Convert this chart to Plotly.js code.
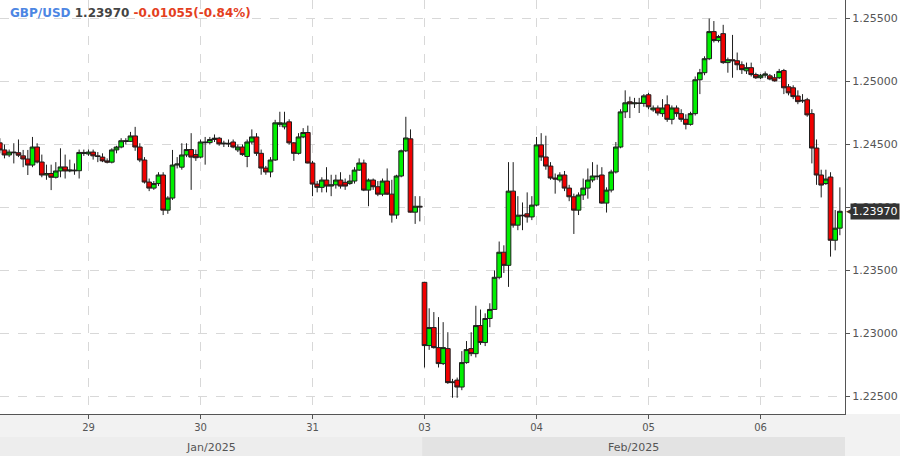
<!DOCTYPE html>
<html>
<head>
<meta charset="utf-8">
<script src="https://cdn.plot.ly/plotly-3.0.1.min.js"></script>
<style>
  html, body { margin: 0; padding: 0; background: #ffffff; }
  #chart { width: 900px; height: 456px; }
</style>
</head>
<body>
<div id="chart"></div>
<script>
// Hourly sessions shown: [day, first hour, last hour]
const sessions = [
  ['2025-01-28', 5, 23],
  ['2025-01-29', 0, 23],
  ['2025-01-30', 0, 23],
  ['2025-01-31', 0, 23],
  ['2025-02-03', 0, 23],
  ['2025-02-04', 0, 23],
  ['2025-02-05', 0, 23],
  ['2025-02-06', 0, 17]
];

const open = [
  1.24513,1.24457,1.24417,1.24440,1.24435,1.24410,1.24385,1.24337,1.24480,1.24361,
  1.24258,1.24270,1.24240,1.24290,1.24322,1.24290,1.24297,1.24292,1.24437,
  1.24425,1.24440,1.24410,1.24400,1.24370,1.24360,1.24457,1.24480,1.24530,1.24525,
  1.24568,1.24480,1.24377,1.24202,1.24154,1.24190,1.24258,1.23979,1.24075,1.24337,
  1.24320,1.24417,1.24460,1.24420,
  1.24400,1.24520,1.24515,1.24540,1.24550,1.24505,1.24510,1.24520,1.24457,1.24480,
  1.24405,1.24520,1.24560,1.24430,1.24313,1.24282,1.24377,1.24660,1.24640,1.24680,
  1.24513,1.24430,1.24560,1.24595,
  1.24353,1.24186,1.24160,1.24218,1.24170,1.24180,1.24218,1.24200,1.24190,1.24210,
  1.24297,1.24353,1.24138,1.24218,1.24165,1.24106,1.24210,1.24106,1.23940,1.24250,
  1.24450,1.24545,1.23963,1.24010,
  1.23406,1.22904,1.23047,1.22888,1.22761,1.22880,1.22610,1.22630,1.22575,1.22769,
  1.22880,1.22840,1.23063,1.22928,1.23119,1.23191,1.23446,1.23645,1.23541,1.24130,
  1.23860,1.23939,1.23950,1.23925,
  1.24019,1.24497,1.24401,1.24329,1.24234,1.24218,1.24258,1.24154,1.24085,1.23979,
  1.24099,1.24154,1.24218,1.24250,1.24258,1.24035,1.24138,1.24282,1.24480,1.24759,
  1.24839,1.24823,1.24830,1.24826,
  1.24895,1.24775,1.24790,1.24745,1.24815,1.24700,1.24790,1.24745,1.24700,1.24660,
  1.24745,1.25014,1.25070,1.25181,1.25396,1.25325,1.25380,1.25150,1.25173,1.25165,
  1.25133,1.25085,1.25110,1.25055,
  1.25030,1.25050,1.25045,1.25030,1.25030,1.25087,1.24958,1.24950,1.24885,1.24845,
  1.24855,1.24745,1.24472,1.24258,1.24190,1.24242,1.23740,1.23836
];
const high = [
  1.2455,1.2450,1.2446,1.2451,1.2454,1.24457,1.24457,1.2456,1.2451,
  1.2442,1.2434,1.2434,1.2436,1.2447,1.2442,1.2438,1.2435,1.2446,1.2446,
  1.2446,1.2446,1.2444,1.2443,1.2439,1.2447,1.2449,1.2455,1.2455,1.2460,
  1.2464,1.2451,1.2440,1.2423,1.2421,1.2428,1.2428,1.2409,1.24457,1.2440,
  1.2451,1.2451,1.2459,1.2446,
  1.2454,1.2456,1.2456,1.2458,1.2456,1.2453,1.2454,1.2454,1.2450,1.2450,
  1.2454,1.2462,1.2459,1.2446,1.2433,1.2440,1.24696,1.2476,1.2476,1.2470,
  1.2452,1.2459,1.2463,1.2465,
  1.2437,1.2421,1.2424,1.2432,1.2426,1.2426,1.2428,1.2423,1.2426,1.2432,
  1.2439,1.2438,1.2423,1.2423,1.2421,1.2423,1.2431,1.2422,1.2426,1.2446,
  1.2472,1.2462,1.2409,1.2409,
  1.2341,1.2320,1.2317,1.2313,1.2309,1.2301,1.2264,1.2265,1.2286,1.2294,
  1.2301,1.2322,1.2319,1.2316,1.2324,1.2350,1.2373,1.2370,1.2436,1.2436,
  1.2409,1.2404,1.2412,1.2409,
  1.2456,1.2459,1.2457,1.2436,1.2427,1.2428,1.2429,1.2418,1.2411,1.2412,
  1.2423,1.2431,1.2436,1.2434,1.2432,1.2416,1.2430,1.2452,1.2478,1.2493,
  1.2488,1.2487,1.2487,1.2490,
  1.2491,1.2481,1.2481,1.2486,1.2489,1.2481,1.2481,1.2478,1.2474,1.2476,
  1.2504,1.2510,1.2520,1.2550,1.2548,1.2537,1.2545,1.2519,1.2537,1.2523,
  1.2516,1.2515,1.2515,1.2507,
  1.2506,1.2508,1.2506,1.2506,1.2510,1.2510,1.2498,1.2497,1.2493,1.2490,
  1.2487,1.2478,1.2454,1.2430,1.2430,1.2428,1.2398,1.2416
];
const low = [
  1.2443,1.2439,1.2440,1.2435,1.2440,1.2432,1.24258,1.2432,1.2435,
  1.2424,1.2422,1.24138,1.2423,1.2424,1.2423,1.2428,1.2426,1.2423,1.2441,
  1.2441,1.2438,1.2436,1.2436,1.2435,1.2435,1.2443,1.2447,1.2450,1.2452,
  1.2445,1.2436,1.2419,1.2413,1.2414,1.2417,1.2394,1.2395,1.2406,1.2431,
  1.2430,1.2440,1.2414,1.2437,
  1.2439,1.2434,1.2450,1.2452,1.2449,1.2448,1.2448,1.2447,1.2444,1.2441,
  1.2432,1.2450,1.2441,1.2426,1.2426,1.2424,1.2437,1.2464,1.2462,1.2450,
  1.2437,1.2442,1.2455,1.2435,
  1.2409,1.2412,1.2412,1.2412,1.2409,1.2415,1.2415,1.2414,1.2418,1.2419,
  1.2429,1.2413,1.2401,1.2414,1.2409,1.2409,1.2410,1.2388,1.2391,1.2424,
  1.2444,1.2396,1.2387,1.2389,
  1.2273,1.2287,1.2288,1.2273,1.2275,1.2260,1.2249,1.2249,1.2255,1.2276,
  1.2282,1.2281,1.2291,1.2290,1.2305,1.2319,1.2343,1.2348,1.2337,1.2384,
  1.2382,1.2382,1.2388,1.2390,
  1.2401,1.2437,1.2430,1.2422,1.2411,1.2420,1.2413,1.2405,1.2379,1.2394,
  1.2406,1.2407,1.2420,1.2422,1.2403,1.2396,1.2412,1.2427,1.2447,1.2471,
  1.2471,1.2479,1.2475,1.2480,
  1.2478,1.2476,1.2473,1.2472,1.2468,1.2466,1.2472,1.2468,1.2462,1.2465,
  1.2473,1.2490,1.2505,1.2517,1.2531,1.2531,1.2514,1.2507,1.2503,1.2509,
  1.2506,1.2506,1.2504,1.2502,
  1.2502,1.2503,1.2501,1.2500,1.2502,1.2490,1.2489,1.2486,1.2482,1.2483,
  1.2472,1.2435,1.2418,1.2408,1.2418,1.2361,1.2366,1.2378
];
const close = [
  1.24457,1.24417,1.24440,1.24435,1.24415,1.24385,1.24337,1.24480,1.24361,
  1.24258,1.24270,1.24240,1.24290,1.24322,1.24290,1.24297,1.24292,1.24437,1.24430,
  1.24440,1.24410,1.24405,1.24370,1.24360,1.24457,1.24480,1.24530,1.24525,1.24568,
  1.24480,1.24377,1.24202,1.24154,1.24190,1.24258,1.23979,1.24075,1.24337,1.24345,
  1.24417,1.24460,1.24400,1.24395,
  1.24520,1.24515,1.24540,1.24550,1.24505,1.24510,1.24505,1.24480,1.24480,1.24420,
  1.24520,1.24560,1.24430,1.24313,1.24282,1.24377,1.24672,1.24672,1.24670,1.24513,
  1.24430,1.24560,1.24595,1.24353,
  1.24186,1.24160,1.24218,1.24170,1.24180,1.24218,1.24170,1.24170,1.24210,1.24297,
  1.24353,1.24138,1.24218,1.24165,1.24106,1.24210,1.24106,1.23940,1.24250,1.24450,
  1.24552,1.23963,1.24010,1.24005,
  1.22904,1.23047,1.22888,1.22761,1.22888,1.22610,1.22615,1.22575,1.22769,1.22872,
  1.22840,1.23063,1.22928,1.23119,1.23191,1.23446,1.23645,1.23541,1.24130,1.23860,
  1.23939,1.23935,1.23925,1.24019,
  1.24497,1.24401,1.24329,1.24234,1.24226,1.24258,1.24154,1.24085,1.23979,1.24099,
  1.24154,1.24218,1.24250,1.24245,1.24035,1.24138,1.24282,1.24480,1.24759,1.24831,
  1.24823,1.24830,1.24826,1.24886,
  1.24799,1.24790,1.24750,1.24790,1.24700,1.24790,1.24745,1.24700,1.24660,1.24745,
  1.25014,1.25070,1.25181,1.25396,1.25325,1.25357,1.25150,1.25173,1.25165,1.25133,
  1.25094,1.25110,1.25055,1.25030,
  1.25050,1.25060,1.25020,1.25005,1.25080,1.24950,1.24910,1.24880,1.24840,1.24850,
  1.24735,1.24472,1.24258,1.24178,1.24226,1.23740,1.23836,1.23970
];

const dayTicks = ['2025-01-29 00:00','2025-01-30 00:00','2025-01-31 00:00','2025-02-03 00:00',
                  '2025-02-04 00:00','2025-02-05 00:00','2025-02-06 00:00'];
const dayLabels = ['29','30','31','03','04','05','06'];
const priceTicks = [1.225, 1.230, 1.235, 1.240, 1.245, 1.250, 1.255];
const months = ['Jan/2025', 'Feb/2025'];
const lastPrice = 1.23970;

const times = [];
sessions.forEach(([d, h0, h1]) => {
  for (let h = h0; h <= h1; h++) times.push(d + ' ' + String(h).padStart(2, '0') + ':00');
});

const FONT = 'DejaVu Sans, Verdana, sans-serif';
const xRange = [0.04, 181.1];
const febStart = times.indexOf('2025-02-03 00:00') - 0.5;
const febFrac = (febStart - xRange[0]) / (xRange[1] - xRange[0]);
const plotH = 414;
const py = px => (plotH - px) / plotH;

const trace = {
  type: 'candlestick',
  x: times, open: open, high: high, low: low, close: close,
  increasing: { line: { color: '#1e1e1e', width: 1 }, fillcolor: '#00f000' },
  decreasing: { line: { color: '#1e1e1e', width: 1 }, fillcolor: '#f00000' },
  whiskerwidth: 0,
  hoverinfo: 'skip',
  showlegend: false
};

const layout = {
  width: 900, height: 456,
  margin: { l: 0, r: 55, t: 0, b: 42, pad: 0 },
  paper_bgcolor: '#ffffff',
  plot_bgcolor: '#ffffff',
  font: { family: FONT, size: 11, color: '#555' },
  boxgap: 0,
  boxgroupgap: 0,
  title: {
    text: '<b><span style="color:#4d86e3">GBP/USD</span> <span style="color:#444444">' +
          lastPrice.toFixed(5) + '</span> <span style="color:#e4401e">-0.01055(-0.84%)</span></b>',
    font: { family: FONT, size: 12 },
    xref: 'container', x: 10 / 900, xanchor: 'left',
    yref: 'container', y: 1 - 13 / 456, yanchor: 'middle'
  },
  xaxis: {
    type: 'category',
    range: xRange,
    rangeslider: { visible: false },
    tickmode: 'array', tickvals: dayTicks, ticktext: dayLabels,
    showgrid: true, gridcolor: '#d8d8d8', griddash: 'dash', gridwidth: 1,
    showline: true, linecolor: '#555', linewidth: 1,
    ticks: 'outside', ticklen: 4, tickcolor: '#555',
    tickfont: { family: FONT, size: 10, color: '#555' },
    zeroline: false, fixedrange: true
  },
  yaxis: {
    side: 'right',
    range: [1.22361, 1.25647],
    tickmode: 'array', tickvals: priceTicks,
    tickformat: '.5f',
    showgrid: true, gridcolor: '#d8d8d8', griddash: 'dash', gridwidth: 1,
    showline: true, linecolor: '#555', linewidth: 1,
    ticks: 'outside', ticklen: 4, tickcolor: '#555',
    tickfont: { family: FONT, size: 11, color: '#555' },
    zeroline: false, fixedrange: true
  },
  shapes: [
    { type: 'rect', xref: 'paper', yref: 'paper', x0: 0, x1: 900 / 845, y0: 0, y1: py(456),
      fillcolor: '#f2f2f2', line: { width: 0 }, layer: 'below' },
    { type: 'rect', xref: 'paper', yref: 'paper', x0: 0, x1: febFrac, y0: py(437), y1: py(456),
      fillcolor: '#ededed', line: { width: 0 }, layer: 'below' },
    { type: 'rect', xref: 'paper', yref: 'paper', x0: febFrac, x1: 1, y0: py(437), y1: py(456),
      fillcolor: '#e3e3e3', line: { width: 0 }, layer: 'below' }
  ],
  annotations: [
    { xref: 'paper', yref: 'paper', x: febFrac / 2, y: py(448), text: months[0], showarrow: false,
      font: { family: FONT, size: 11, color: '#555' }, xanchor: 'center', yanchor: 'middle' },
    { xref: 'paper', yref: 'paper', x: (febFrac + 1) / 2, y: py(448), text: months[1], showarrow: false,
      font: { family: FONT, size: 11, color: '#555' }, xanchor: 'center', yanchor: 'middle' },
    { xref: 'paper', yref: 'y', x: 1, y: lastPrice, xanchor: 'left', yanchor: 'middle', xshift: -1,
      text: '◀', showarrow: false, font: { family: FONT, size: 9, color: '#333' } },
    { xref: 'paper', yref: 'y', x: 1, y: lastPrice, xanchor: 'left', yanchor: 'middle', xshift: 5,
      text: lastPrice.toFixed(5), showarrow: false, bgcolor: '#333333', borderpad: 1,
      font: { family: FONT, size: 11, color: '#ffffff' } }
  ]
};

Plotly.newPlot('chart', [trace], layout, { displayModeBar: false, staticPlot: true });
</script>
</body>
</html>
